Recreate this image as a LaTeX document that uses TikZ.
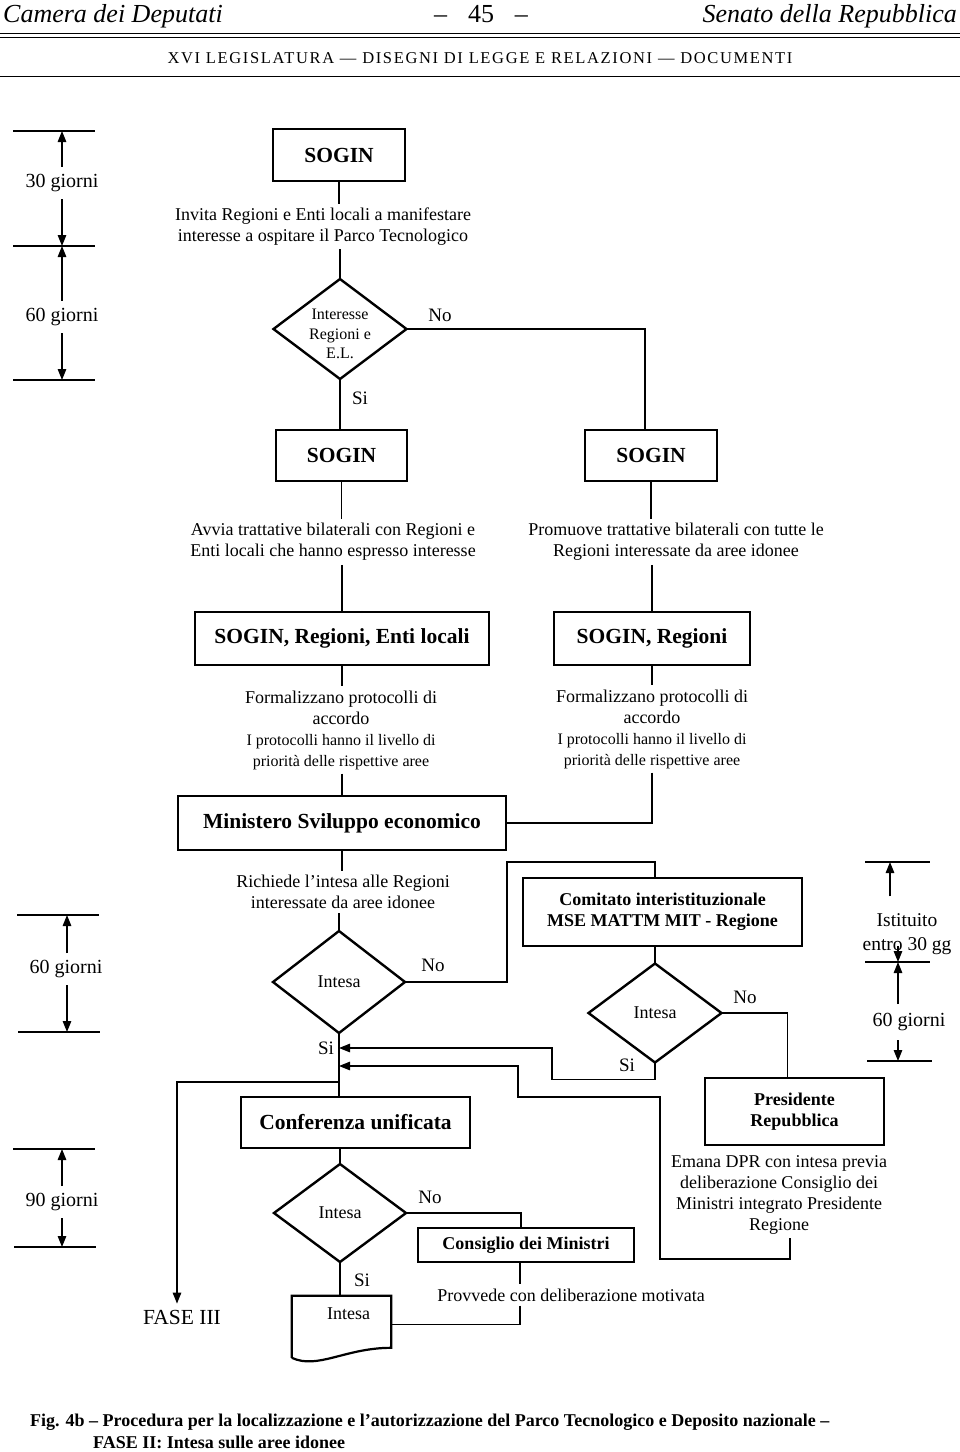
\documentclass[tikz,border=0pt]{standalone}
\usepackage{fontspec}
\setmainfont{Liberation Serif}
\newfontfamily\capfont{Liberation Serif}
\newfontfamily\spcfont[LetterSpace=10]{Liberation Serif}
\usetikzlibrary{shapes.geometric,arrows.meta,calc}
\newcommand\fsz[2]{\fontsize{#1}{#2}\selectfont}
\begin{document}
\begin{tikzpicture}[x=1pt,y=-1pt,
  box/.style={draw, line width=2.4pt, inner sep=2pt, align=center},
  bigbold/.style={font=\bfseries\fsz{21.5}{25}},
  medbold/.style={font=\bfseries\fsz{18}{21}},
  txt/.style={align=center, inner sep=4pt, font=\fsz{18}{21}},
  dia/.style={draw, diamond, line width=2.4pt, inner sep=0pt, outer sep=0pt},
  lbl/.style={inner sep=1pt, font=\fsz{19}{21}},
  tlab/.style={inner sep=7pt, font=\fsz{20}{24}},
  conn/.style={line width=1.3pt},
  arr/.style={line width=1.3pt, -{Triangle[length=11pt,width=8.5pt]}},
  tline/.style={line width=1.3pt}]
\fill[white] (0,0) rectangle (960,1452);
\useasboundingbox (0,0) rectangle (960,1452);

% ---------- header
\node[anchor=base west, inner sep=0pt, font=\itshape\fsz{26}{30}] (hdL) at (3,22) {Camera dei Deputati};
\node[anchor=base, inner sep=0pt, font=\fsz{26}{30}] (hdC) at (481,22) {–\hspace{0.8em}45\hspace{0.8em}–};
\node[anchor=base east, inner sep=0pt, font=\itshape\fsz{26}{30}] (hdR) at (957,22) {Senato della Repubblica};
\draw[line width=0.9pt] (0,33) -- (960,33);
\draw[line width=0.9pt] (0,37) -- (960,37);
\node[anchor=base, inner sep=0pt, font=\spcfont\fsz{16.5}{18}] (hdS) at (480,63) {XVI LEGISLATURA — DISEGNI DI LEGGE E RELAZIONI — DOCUMENTI};
\draw[line width=0.9pt] (0,76) -- (960,76);

% ---------- left timelines
\draw[tline] (13,131) -- (95,131);
\draw[tline] (13,246) -- (95,246);
\draw[tline] (13,380) -- (95,380);
\coordinate (tA) at (62,131);
\coordinate (tB) at (62,246);
\coordinate (tC) at (62,380);
\node[tlab] (g30) at (62,183) {30 giorni};
\node[tlab] (g60a) at (62,317) {60 giorni};
\draw[arr] (g30.north) -- (tA);
\draw[arr] (g30.south) -- (tB);
\draw[arr] (g60a.north) -- (tB);
\draw[arr] (g60a.south) -- (tC);

\draw[tline] (17,915) -- (99,915);
\draw[tline] (18,1032) -- (100,1032);
\coordinate (tD) at (67,915);
\coordinate (tE) at (67,1032);
\node[tlab] (g60b) at (66,969) {60 giorni};
\draw[arr] (g60b.north -| tD) -- (tD);
\draw[arr] (g60b.south -| tE) -- (tE);

\draw[tline] (13,1149) -- (95,1149);
\draw[tline] (14,1247) -- (96,1247);
\coordinate (tF) at (62,1149);
\coordinate (tG) at (62,1247);
\node[tlab] (g90) at (62,1202) {90 giorni};
\draw[arr] (g90.north) -- (tF);
\draw[arr] (g90.south) -- (tG);

% ---------- right timeline
\draw[tline] (865,862) -- (930,862);
\draw[tline] (865,962) -- (930,962);
\draw[tline] (867,1061) -- (932,1061);
\coordinate (rtA) at (890,862);
\coordinate (rtB) at (898,962);
\coordinate (rtC) at (898,1061);
\node[inner sep=17pt, align=center, font=\fsz{19.5}{24}] (ist) at (907,934) {Istituito\\entro 30 gg};
\node[tlab, inner sep=9pt] (g60r) at (909,1022) {60 giorni};
\draw[arr] (ist.north -| rtA) -- (rtA);
\draw[arr] ($(rtB)+(0,-16)$) -- (rtB);
\draw[arr] (g60r.north -| rtB) -- (rtB);
\draw[arr] (g60r.south -| rtC) -- (rtC);

% ---------- flow: top part
\node[box, bigbold, minimum width=132pt, minimum height=52pt] (sog1) at (339,155) {SOGIN};
\node[txt] (t1) at (323,226.5) {Invita Regioni e Enti locali a manifestare\\interesse a ospitare il Parco Tecnologico};
\node[dia, minimum width=133pt, minimum height=100pt,
  label={[align=center, font=\fsz{16}{19.5}, yshift=-5pt]center:{Interesse\\Regioni e\\E.L.}}] (d1) at (340,329) {};
\node[lbl] (no1) at (440,315) {No};
\node[lbl] (si1) at (360,398) {Si};
\node[box, bigbold, minimum width=131pt, minimum height=51pt] (sog2) at (341.5,455.5) {SOGIN};
\node[box, bigbold, minimum width=132pt, minimum height=51pt] (sog3) at (651,455.5) {SOGIN};
\draw[conn] (sog1.south) -- (sog1.south |- t1.north);
\draw[conn] (t1.south -| d1.north) -- (d1.north);
\draw[conn] (d1.south) -- (d1.south |- sog2.north);
\draw[conn] (d1.east) -| ($(sog3.north)+(-6,0)$);

\node[txt] (t2) at (333,542) {Avvia trattative bilaterali con Regioni e\\Enti locali che hanno espresso interesse};
\node[txt] (t3) at (676,542) {Promuove trattative bilaterali con tutte le\\Regioni interessate da aree idonee};
\draw[conn] (sog2.south) -- (sog2.south |- t2.north);
\draw[conn] (sog3.south) -- (sog3.south |- t3.north);

\node[box, bigbold, minimum width=294pt, minimum height=53pt] (sre) at (342,638.5) {SOGIN, Regioni, Enti locali};
\node[box, bigbold, minimum width=196pt, minimum height=53pt] (sr) at (652,638.5) {SOGIN, Regioni};
\draw[conn] (t2.south -| sre.north) -- (sre.north);
\draw[conn] (t3.south -| sr.north) -- (sr.north);

\node[txt] (t4) at (341,730) {\fsz{18}{20.5}Formalizzano protocolli di\\\fsz{18}{20.5}accordo\\\fsz{16}{20.5}I protocolli hanno il livello di\\\fsz{16}{20.5}priorità delle rispettive aree};
\node[txt] (t5) at (652,729) {\fsz{18}{20.5}Formalizzano protocolli di\\\fsz{18}{20.5}accordo\\\fsz{16}{20.5}I protocolli hanno il livello di\\\fsz{16}{20.5}priorità delle rispettive aree};
\draw[conn] (sre.south) -- (sre.south |- t4.north);
\draw[conn] (sr.south) -- (sr.south |- t5.north);

\node[box, bigbold, minimum width=328pt, minimum height=54pt] (mse) at (342,823) {Ministero Sviluppo economico};
\draw[conn] (t4.south -| mse.north) -- (mse.north);
\draw[conn] (t5.south -| sr.south) |- (mse.east);

% ---------- middle part
\node[txt] (t6) at (343,892) {Richiede l’intesa alle Regioni\\interessate da aree idonee};
\draw[conn] (mse.south) -- (mse.south |- t6.north);
\node[dia, minimum width=132pt, minimum height=102pt,
  label={[font=\fsz{18}{21}]center:Intesa}] (d2) at (339,982) {};
\draw[conn] (t6.south -| d2.north) -- (d2.north);
\node[lbl] (no2) at (433,965) {No};

\node[box, medbold, minimum width=279pt, minimum height=68pt] (com) at (662.5,912) {Comitato interistituzionale\\MSE MATTM MIT - Regione};
\node[dia, minimum width=133pt, minimum height=99pt,
  label={[font=\fsz{18}{21}]center:Intesa}] (d3) at (655,1013) {};
\coordinate (n2) at (507,862);
\draw[conn] (d2.east) -| (n2) -| (d3.north |- com.north);
\draw[conn] (d3.north |- com.south) -- (d3.north);
\node[lbl] (no3) at (745,997) {No};
\node[lbl] (si3) at (627,1065) {Si};

\node[box, medbold, minimum width=179pt, minimum height=67pt] (pres) at (794.5,1111.5) {Presidente\\Repubblica};
\draw[conn] (d3.east) -| ($(pres.north)+(-7,0)$);
\node[txt] (t7) at (779,1194.5) {Emana DPR con intesa previa\\deliberazione Consiglio dei\\Ministri integrato Presidente\\Regione};

\coordinate (sa) at (339,1048);
\coordinate (sb) at (339,1066);
\node[lbl] (si2) at (326,1048) {Si};
\draw[arr] (d3.south) -- ++(0,17) -| (552,1048) -- (sa);
\coordinate (pr1) at (790,1259);
\draw[arr] (pr1 |- t7.south) -- (pr1) -| (660,1097) -| (518,1066) -- (sb);

% ---------- lower part
\node[box, bigbold, minimum width=229pt, minimum height=51pt] (conf) at (355.5,1122.5) {Conferenza unificata};
\draw[conn] (d2.south) -- (d2.south |- conf.north);
\node[inner sep=6pt, font=\fsz{21.5}{25}] (fase) at (182,1317) {FASE III};
\coordinate (fb) at (339,1082);
\draw[arr] (fb) -| ($(fase.north)+(-5,0)$);

\node[dia, minimum width=132pt, minimum height=98pt,
  label={[font=\fsz{18}{21}]center:Intesa}] (d4) at (340,1213) {};
\draw[conn] (d4.north |- conf.south) -- (d4.north);
\node[lbl] (no4) at (430,1197) {No};
\node[lbl] (si4) at (362,1280) {Si};

\node[box, medbold, minimum width=216pt, minimum height=34pt] (cdm) at (526,1245) {\raisebox{-4pt}{Consiglio dei Ministri}};
\draw[conn] (d4.east) -| ($(cdm.north)+(-5,0)$);
\node[txt] (t8) at (571,1295) {Provvede con deliberazione motivata};
\coordinate (cx) at ($(cdm.south)+(-6,0)$);
\draw[conn] (cx) -- (cx |- t8.north);

\node[inner sep=0pt, minimum width=99pt, minimum height=36pt, font=\fsz{18}{21}] (doc) at (341.5,1314) {\hspace*{14pt}Intesa};
\draw[line width=2.2pt, line join=miter] ($(doc.north west)+(0,62)$) -- (doc.north west) -- (doc.north east) -- ($(doc.north east)+(0,52)$)
  .. controls ($(doc.north east)+(-46,52)$) and ($(doc.north west)+(26,74)$) .. ($(doc.north west)+(0,62)$);
\coordinate (docR) at ($(doc.north east)+(0,29)$);
\draw[conn] (cx |- t8.south) |- (docR);
\draw[conn] (d4.south) -- (d4.south |- doc.north);

% ---------- caption
\node[anchor=base west, inner sep=0pt, font=\capfont\bfseries\fsz{18}{22}] (cap1) at (30,1426) {Fig. 4b – Procedura per la localizzazione e l’autorizzazione del Parco Tecnologico e Deposito nazionale –};
\node[anchor=base west, inner sep=0pt, font=\capfont\bfseries\fsz{18}{22}] (cap2) at (93,1448) {FASE II: Intesa sulle aree idonee};
\end{tikzpicture}
\end{document}
